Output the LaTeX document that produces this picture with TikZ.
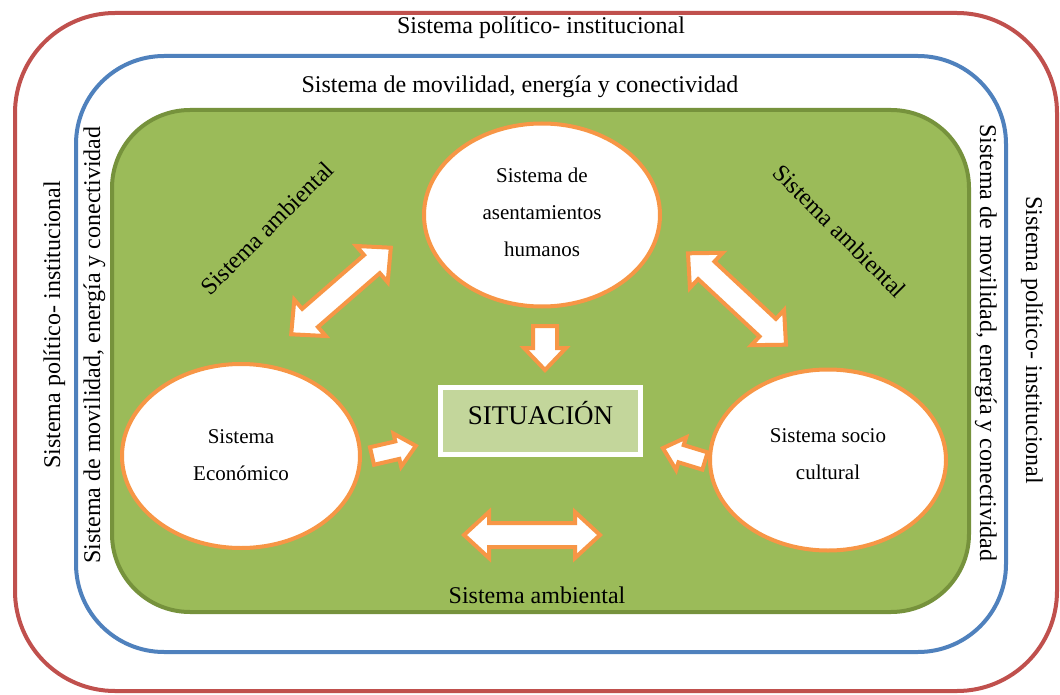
\documentclass[tikz,border=0pt]{standalone}
\usepackage{fontspec}
\setmainfont{Liberation Serif}
\usetikzlibrary{shapes.geometric}
\definecolor{redline}{HTML}{C0504D}
\definecolor{blueline}{HTML}{4F81BD}
\definecolor{greenfill}{HTML}{9BBB59}
\definecolor{greenline}{HTML}{76923C}
\definecolor{orangeline}{HTML}{F79646}
\definecolor{sitfill}{HTML}{C3D69B}
\tikzset{
  frameline/.style={line width=4pt},
  title/.style={font=\fontsize{24}{28}\selectfont, inner sep=0pt},
  ell/.style={ellipse, draw=orangeline, fill=white, line width=4pt, inner sep=0pt},
  elltext/.style={font=\fontsize{21}{37}\selectfont, align=center, inner sep=0pt},
  arrowshape/.style={draw=orangeline, fill=white, line width=4pt, line join=miter},
  sitbox/.style={draw=white, fill=sitfill, line width=5pt, minimum width=200pt, minimum height=67pt, inner sep=0pt}
}
\newcommand\sglarrowshape[7]{%
  \begin{scope}[shift={(#1,#2)},rotate=#3]
    \draw[arrowshape] (0,-#5) -- ({#4-#7},-#5) -- ({#4-#7},-#6) -- (#4,0) -- ({#4-#7},#6) -- ({#4-#7},#5) -- (0,#5) -- cycle;
  \end{scope}}
\newcommand\dblarrowshape[7]{%
  \begin{scope}[shift={(#1,#2)},rotate=#3]
    \pgfmathsetmacro\hL{#4/2}
    \draw[arrowshape] (-\hL,0) -- ({-\hL+#7},-#6) -- ({-\hL+#7},-#5) -- ({\hL-#7},-#5) -- ({\hL-#7},-#6) -- (\hL,0) -- ({\hL-#7},#6) -- ({\hL-#7},#5) -- ({-\hL+#7},#5) -- ({-\hL+#7},#6) -- cycle;
  \end{scope}}
\begin{document}
\begin{tikzpicture}[x=1pt,y=-1pt]
  \useasboundingbox[fill=white] (0,0) rectangle (1060,695);
  % frames
  \draw[frameline, draw=redline, rounded corners=100pt] (15,13) rectangle (1057,691);
  \draw[frameline, draw=blueline, rounded corners=88pt] (76,56) rectangle (1006,652);
  \draw[frameline, draw=greenline, fill=greenfill, rounded corners=78pt] (112,110) rectangle (969,612);
  % frame labels
  \node[title, anchor=base] (polTop) at (541,34) {Sistema político- institucional};
  \node[title, anchor=base] (movTop) at (520,93) {Sistema de movilidad, energía y conectividad};
  \node[title, anchor=base] (ambBot) at (537,603) {Sistema ambiental};
  \node[title, anchor=base, rotate=90] (polL) at (60,325) {Sistema político- institucional};
  \node[title, anchor=base, rotate=90] (movL) at (100,345) {Sistema de movilidad, energía y conectividad};
  \node[title, anchor=base, rotate=-90] (movR) at (980,343) {Sistema de movilidad, energía y conectividad};
  \node[title, anchor=base, rotate=-90] (polR) at (1026,340) {Sistema político- institucional};
  \node[title, rotate=45] (ambL) at (267,228) {Sistema ambiental};
  \node[title, rotate=-45] (ambR) at (840,231) {Sistema ambiental};
  % ellipses
  \node[ell, minimum width=236pt, minimum height=183pt] (asent) at (542,215) {};
  \node[elltext] (asentT) at (542,212) {Sistema de\\asentamientos\\humanos};
  \node[ell, minimum width=238pt, minimum height=184pt] (econ) at (241,456) {};
  \node[elltext] (econT) at (241,455) {Sistema\\Económico};
  \node[ell, minimum width=236pt, minimum height=181pt] (cult) at (828,460) {};
  \node[elltext] (cultT) at (828,454) {Sistema socio\\cultural};
  % situation
  \node[sitbox] (sit) at (540.5,421) {};
  \node[font=\fontsize{27}{30}\selectfont, anchor=base, inner sep=0pt] (sitT) at (540.5,424) {SITUACIÓN};
  % block arrows
  \dblarrowshape{341}{291}{41}{132}{12}{24}{25}
  \dblarrowshape{737}{299}{-43}{134}{12}{24}{25}
  \dblarrowshape{532}{535}{0}{136}{12}{23}{25}
  \sglarrowshape{545}{326}{-90}{44}{12}{21}{22}
  \sglarrowshape{372}{456}{13}{45}{9}{17}{19}
  \sglarrowshape{705}{461}{163}{44}{9}{17}{19}
\end{tikzpicture}
\end{document}
